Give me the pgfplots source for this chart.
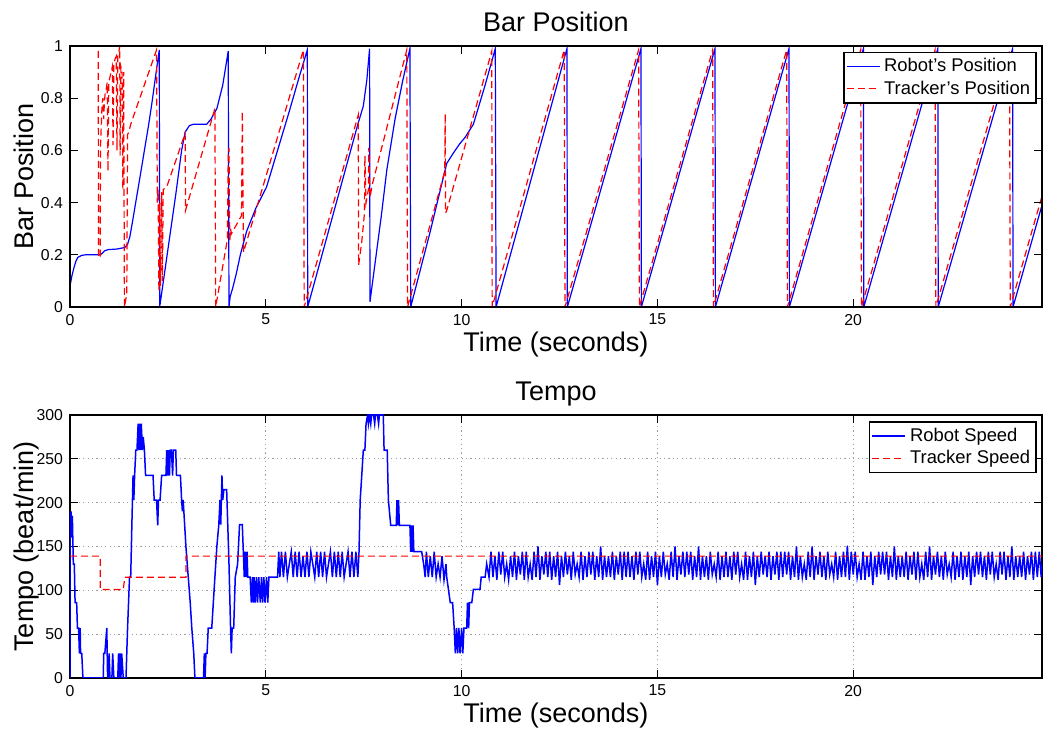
\documentclass[border=0pt]{standalone}
\usepackage{fontspec}
\setmainfont{Liberation Sans}
\usepackage{pgfplots}
\pgfplotsset{compat=1.18}
\usetikzlibrary{calc}

\definecolor{mblue}{rgb}{0,0,1}
\definecolor{mred}{rgb}{1,0,0}

\pgfplotsset{
  mat/.style={
    scale only axis,
    width=486pt,
    xmin=0, xmax=24.82,
    xtick={0,5,10,15,20},
    tick align=inside,
    major tick length=4pt,
    axis line style={line width=0.8pt},
    every tick/.append style={line width=0.6pt, black},
    tick label style={font=\fontsize{7.9}{9}\selectfont},
    /pgf/number format/assume math mode=true,
    xlabel style={font=\fontsize{13.5}{16}\selectfont, at={(axis description cs:0.5,-0.171)}, anchor=base},
    ylabel style={font=\fontsize{13.5}{16}\selectfont, at={(axis description cs:-0.038,0.5)}, anchor=base},
    every axis title shift=0pt,
    title style={font=\fontsize{13.5}{16}\selectfont, at={(axis description cs:0.5,1.055)}, anchor=base, yshift=0pt},
    legend cell align=left,
    legend style={font=\fontsize{9.2}{10.5}\selectfont, draw=black, line width=0.6pt, anchor=north east, inner sep=1pt, row sep=-1pt},
    legend image code/.code={\draw[#1] (0pt,0pt) -- (16.5pt,0pt);},
  },
  rob/.style={color=mblue, line width=0.6pt},
  trk/.style={color=mred, line width=0.6pt, dash pattern=on 3.5pt off 2pt},
}

\begin{document}
\begin{tikzpicture}
%================ TOP: Bar Position ================
\begin{axis}[mat, name=top, height=130.5pt, ymin=0, ymax=1,
  ytick={0,0.2,0.4,0.6,0.8,1}, axis on top,
  title={Bar Position}, xlabel={Time (seconds)}, ylabel={Bar Position},
  legend style={at={(axis description cs:0.9945,0.978)}}]
\addplot[rob] coordinates {
(0,0.08)(0.05,0.12)(0.1,0.15)(0.15,0.175)(0.2,0.19)(0.3,0.198)(0.4,0.2)(0.77,0.2)(0.82,0.205)(0.88,0.215)(0.98,0.22)(1.20,0.222)(1.40,0.228)(1.47,0.24)(1.53,0.27)(1.60,0.33)(1.70,0.42)(1.79,0.50)(1.90,0.60)(2.0,0.69)(2.1,0.79)(2.2,0.90)(2.28,0.985)
(2.29,0)(2.5,0.22)(2.7,0.43)(2.85,0.60)(2.94,0.67)(3.05,0.695)(3.15,0.70)(3.49,0.70)(3.60,0.72)(3.75,0.76)(3.9,0.85)(4.04,0.98)
(4.06,0)(4.09,0.04)(4.15,0.07)(4.25,0.13)(4.35,0.20)(4.51,0.29)(4.75,0.38)(5.02,0.46)(5.3,0.60)(5.6,0.75)(5.85,0.88)(6.06,0.985)
(6.07,0)(7.35,0.70)(7.49,0.77)(7.58,0.87)(7.65,0.99)
(7.66,0.02)(7.95,0.35)(8.09,0.525)(8.3,0.72)(8.5,0.87)(8.68,0.99)
(8.70,0)(9.2,0.29)(9.62,0.55)(9.79,0.59)(9.95,0.625)(10.09,0.65)(10.30,0.70)(10.6,0.85)(10.86,0.99)
(10.88,0)(12.69,0.99)
(12.70,0)(14.58,0.99)
(14.59,0)(16.47,0.99)
(16.48,0)(18.36,0.99)
(18.37,0)(20.26,0.99)
(20.27,0)(22.16,0.99)
(22.17,0)(24.07,0.99)
(24.08,0)(24.82,0.39)
};
\addlegendentry{Robot's Position}
\addplot[trk] coordinates {
(0,1)(0.72,1)(0.73,0.19)(0.77,0.19)(0.78,0.62)(0.80,0.70)(0.82,0.78)(0.84,0.80)(0.86,0.72)(0.88,0.79)(0.90,0.82)(0.93,0.84)(0.95,0.86)(0.97,0.52)(0.99,0.86)(1.02,0.88)(1.05,0.90)(1.08,0.92)(1.10,0.62)(1.12,0.93)(1.15,0.95)(1.18,0.96)(1.20,0.60)(1.22,0.96)(1.25,0.98)(1.27,1.0)(1.28,0.58)(1.30,0.92)(1.33,0.90)(1.35,0.45)(1.37,0.90)(1.39,0.0)(1.45,0.05)(1.47,0.66)(1.50,0.67)(1.55,0.70)(2.21,0.985)
(2.23,0.40)(2.25,0.45)(2.27,0.06)(2.29,0.40)(2.31,0.08)(2.34,0.44)(2.36,0.1)(2.38,0.45)(2.47,0.46)(2.94,0.665)(2.95,0.37)(3.70,0.76)
(3.72,0)(4.02,0.26)(4.04,0.58)(4.06,0.61)(4.08,0.25)(4.10,0.30)(4.12,0.28)(4.38,0.35)(4.40,0.75)(4.43,0.21)(5.96,0.985)
(5.98,0)(7.36,0.735)(7.37,0.16)(7.45,0.25)(7.52,0.36)(7.53,0.58)(7.56,0.40)(7.62,0.45)(7.63,0.61)(7.66,0.42)(7.72,0.47)(8.60,0.985)
(8.62,0)(9.57,0.52)(9.58,0.74)(9.59,0.36)(9.62,0.37)(10.77,0.98)
(10.78,0)(12.62,0.985)
(12.64,0)(14.52,0.985)
(14.54,0)(16.41,0.985)
(16.43,0)(18.30,0.985)
(18.32,0)(20.19,0.985)
(20.21,0)(22.09,0.985)
(22.11,0)(23.99,0.985)
(24.01,0)(24.82,0.425)
};
\addlegendentry{Tracker's Position}
\end{axis}

%================ BOTTOM: Tempo ================
\begin{axis}[mat, name=bot, at={($(top.south west)+(0,-54pt)$)}, anchor=north west,
  height=131.5pt, ymin=0, ymax=300, ytick={0,50,100,150,200,250,300},
  grid=major, major grid style={gray!75, line width=0.5pt, dash pattern=on 0.6pt off 1.6pt},
  title={Tempo}, xlabel={Time (seconds)}, ylabel={Tempo (beat/min)},
  legend style={at={(axis description cs:0.9945,0.976)}}]
\addplot[rob, line width=0.75pt] coordinates {
(0,0)(0.005,190)(0.02,175)(0.03,190)(0.045,160)(0.06,185)(0.085,130)(0.11,130)(0.13,86)(0.17,86)(0.19,57)(0.22,57)(0.24,28)(0.26,57)(0.27,28)(0.30,28)(0.33,0)
(0.85,0)(0.86,28)(0.89,28)(0.94,57)(0.96,0)(0.98,0)(1.0,28)(1.02,0)(1.07,0)(1.09,28)(1.12,0)(1.22,0)(1.24,28)(1.26,0)(1.28,28)(1.30,0)(1.32,28)(1.36,0)(1.43,0)(1.47,57)(1.52,115)(1.55,115)(1.58,175)(1.61,231)(1.63,203)(1.65,231)(1.68,260)(1.71,260)(1.74,290)(1.76,260)(1.78,290)(1.80,260)(1.82,290)(1.85,260)(1.87,275)(1.90,260)(1.93,231)
(2.12,231)(2.15,203)(2.21,203)(2.24,174)(2.26,203)(2.30,203)(2.34,231)(2.45,231)(2.47,260)(2.49,231)(2.51,260)(2.54,231)(2.56,260)(2.59,260)(2.62,231)(2.64,260)(2.70,260)(2.72,231)(2.82,231)(2.85,203)(2.87,190)(2.89,203)(2.96,150)(3.02,115)(3.07,86)(3.11,57)(3.16,28)(3.19,0)
(3.41,0)(3.43,28)(3.45,0)(3.47,28)(3.50,28)(3.53,57)(3.62,57)(3.70,115)(3.75,150)(3.80,175)(3.83,203)(3.85,175)(3.88,231)(3.90,203)(3.93,215)(4.00,215)(4.06,130)(4.10,57)(4.12,28)(4.14,57)(4.18,57)(4.22,115)(4.28,130)(4.33,175)(4.40,175)(4.43,139)(4.45,115)(4.47,144)(4.50,115)(4.52,144)(4.54,115)(4.60,115)
(4.63,86)(4.66,115)(4.68,86)(4.70,115)(4.73,86)(4.76,115)(4.79,86)(4.82,115)(4.86,86)(4.89,115)(4.92,86)(4.95,115)(4.98,86)(5.02,115)(5.05,86)(5.08,115)(5.30,115)(5.33,144)(5.36,115)
(5.40,144)(5.45,115)(5.50,144)(5.55,115)(5.60,130)(5.65,144)(5.70,115)(5.75,144)(5.80,115)(5.85,144)(5.90,115)(5.95,139)(6.00,115)(6.05,144)(6.10,115)(6.15,144)(6.20,130)(6.25,115)(6.30,144)(6.35,115)
(6.40,144)(6.45,115)(6.50,144)(6.55,115)(6.60,130)(6.65,144)(6.70,115)(6.75,144)(6.80,115)(6.85,144)(6.90,115)(6.95,144)(7.00,115)(7.05,130)(7.10,144)(7.15,115)(7.20,144)(7.25,115)(7.30,144)(7.35,115)
(7.38,144)(7.41,203)(7.45,231)(7.49,260)(7.53,260)(7.56,290)(7.60,300)(7.62,290)(7.65,300)(7.68,290)(7.70,300)(7.75,300)(7.78,290)(7.80,300)(7.85,300)(7.88,290)(7.90,300)(8.00,300)(8.02,260)(8.10,260)(8.13,203)(8.19,174)(8.33,174)(8.35,203)(8.37,174)(8.39,203)(8.41,174)(8.68,174)(8.70,144)(8.72,174)(8.74,144)(8.76,174)(8.78,144)(8.98,144)(9.03,130)(9.07,115)
(9.10,144)(9.15,115)(9.20,139)(9.25,115)(9.30,144)(9.35,115)(9.40,130)(9.45,115)(9.50,139)(9.55,112)(9.60,130)(9.62,115)
(9.71,86)(9.77,86)(9.81,57)(9.84,28)(9.87,57)(9.90,28)(9.93,57)(9.96,28)(10.0,57)(10.03,28)(10.06,57)(10.13,57)(10.15,86)(10.18,57)(10.20,86)(10.26,86)(10.30,101)(10.47,101)(10.50,115)(10.60,115)(10.64,130)(10.70,115)
(10.75,144)(10.80,115)(10.85,139)(10.90,112)(10.95,144)(11.00,118)(11.05,144)(11.10,115)(11.15,130)(11.20,112)
(11.25,139)(11.30,115)(11.35,144)(11.40,112)(11.45,139)(11.50,118)(11.55,144)(11.60,112)(11.65,144)(11.70,115)
(11.75,130)(11.80,112)(11.85,144)(11.90,115)(11.95,150)(12.00,112)(12.05,139)(12.10,118)(12.15,144)(12.20,115)
(12.25,144)(12.30,112)(12.35,139)(12.40,115)(12.45,144)(12.50,106)(12.55,139)(12.60,115)(12.65,144)(12.70,118)
(12.75,139)(12.80,112)(12.85,144)(12.90,118)(12.95,130)(13.00,115)(13.05,144)(13.10,112)(13.15,139)(13.20,115)
(13.25,144)(13.30,118)(13.35,144)(13.40,112)(13.45,139)(13.50,115)(13.55,150)(13.60,112)(13.65,139)(13.70,115)
(13.75,139)(13.80,115)(13.85,144)(13.90,112)(13.95,139)(14.00,118)(14.05,144)(14.10,112)(14.15,144)(14.20,115)
(14.25,144)(14.30,115)(14.35,139)(14.40,112)(14.45,144)(14.50,118)(14.55,144)(14.60,115)(14.65,130)(14.70,112)
(14.75,144)(14.80,112)(14.85,139)(14.90,115)(14.95,144)(15.00,106)(15.05,139)(15.10,115)(15.15,144)(15.20,118)
(15.25,130)(15.30,112)(15.35,144)(15.40,115)(15.45,150)(15.50,112)(15.55,139)(15.60,118)(15.65,144)(15.70,115)
(15.75,144)(15.80,118)(15.85,144)(15.90,112)(15.95,139)(16.00,115)(16.05,150)(16.10,112)(16.15,139)(16.20,115)
(16.25,139)(16.30,112)(16.35,144)(16.40,118)(16.45,130)(16.50,115)(16.55,144)(16.60,112)(16.65,139)(16.70,115)
(16.75,144)(16.80,115)(16.85,139)(16.90,112)(16.95,144)(17.00,118)(17.05,144)(17.10,115)(17.15,130)(17.20,112)
(17.25,144)(17.30,112)(17.35,139)(17.40,115)(17.45,144)(17.50,106)(17.55,139)(17.60,115)(17.65,144)(17.70,118)
(17.75,139)(17.80,115)(17.85,144)(17.90,112)(17.95,139)(18.00,118)(18.05,144)(18.10,112)(18.15,144)(18.20,115)
(18.25,144)(18.30,118)(18.35,144)(18.40,112)(18.45,139)(18.50,115)(18.55,150)(18.60,112)(18.65,139)(18.70,115)
(18.75,130)(18.80,112)(18.85,144)(18.90,115)(18.95,150)(19.00,112)(19.05,139)(19.10,118)(19.15,144)(19.20,115)
(19.25,139)(19.30,112)(19.35,144)(19.40,118)(19.45,130)(19.50,115)(19.55,144)(19.60,112)(19.65,139)(19.70,115)
(19.75,144)(19.80,115)(19.85,151)(19.90,112)(19.95,144)(20.00,118)(20.05,144)(20.10,115)(20.15,130)(20.20,112)
(20.25,144)(20.30,112)(20.35,139)(20.40,115)(20.45,144)(20.50,106)(20.55,139)(20.60,115)(20.65,144)(20.70,118)
(20.75,144)(20.80,118)(20.85,144)(20.90,112)(20.95,139)(21.00,115)(21.05,150)(21.10,112)(21.15,139)(21.20,115)
(21.25,139)(21.30,115)(21.35,144)(21.40,112)(21.45,139)(21.50,118)(21.55,144)(21.60,112)(21.65,144)(21.70,115)
(21.75,130)(21.80,112)(21.85,144)(21.90,115)(21.95,150)(22.00,112)(22.05,139)(22.10,118)(22.15,144)(22.20,115)
(22.25,139)(22.30,112)(22.35,144)(22.40,118)(22.45,130)(22.50,115)(22.55,144)(22.60,112)(22.65,139)(22.70,115)
(22.75,144)(22.80,112)(22.85,139)(22.90,115)(22.95,144)(23.00,106)(23.05,139)(23.10,115)(23.15,144)(23.20,118)
(23.25,144)(23.30,115)(23.35,139)(23.40,112)(23.45,144)(23.50,118)(23.55,144)(23.60,115)(23.65,130)(23.70,112)
(23.75,144)(23.80,118)(23.85,144)(23.90,112)(23.95,139)(24.00,115)(24.05,150)(24.10,112)(24.15,139)(24.20,115)
(24.25,139)(24.30,115)(24.35,144)(24.40,112)(24.45,139)(24.50,118)(24.55,144)(24.60,112)(24.65,144)(24.70,115)
(24.75,144)(24.80,115)(24.85,139)
};
\addlegendentry{Robot Speed}
\addplot[trk] coordinates {
(0,139)(0.77,139)(0.77,101)(1.36,101)(1.40,115)(2.96,115)(2.96,139)(24.82,139)
};
\addlegendentry{Tracker Speed}
\end{axis}

\pgfresetboundingbox
\path[use as bounding box] ($(top.north west)+(-35pt,23pt)$) rectangle ($(bot.south east)+(2pt,-26pt)$);
\end{tikzpicture}
\end{document}
